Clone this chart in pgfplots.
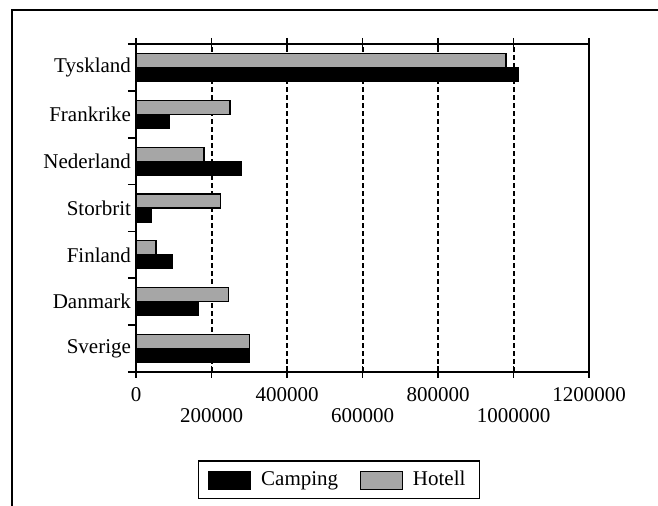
\documentclass[border=0pt]{standalone}
\usepackage{fontspec}
\setmainfont{Liberation Serif}
\usepackage{pgfplots}
\pgfplotsset{compat=1.18}

\begin{document}
\begin{tikzpicture}[font=\fontsize{10.5}{12.6}\selectfont]
\useasboundingbox (0,0) rectangle (329pt,253pt);
\draw[line width=0.8pt] (6pt,0) -- (6pt,248pt) -- (329pt,248pt);
\begin{axis}[
    at={(68pt,67pt)}, anchor=south west,
    scale only axis, width=226.5pt, height=164pt,
    xbar, bar width=7pt,
    xmin=0, xmax=1200000, ymin=-0.5, ymax=6.5,
    axis line style={line width=0.8pt},
    every tick/.style={black, line width=0.8pt},
    major tick length=6pt, minor tick length=4pt,
    xtick align=center, ytick align=outside,
    xtick pos=both, ytick pos=left,
    xtick={0,400000,800000,1200000},
    xticklabels={0,400000,800000,1200000},
    extra x ticks={200000,600000,1000000},
    extra x tick labels={200000,600000,1000000},
    extra x tick style={grid=major, xticklabel style={yshift=-10.5pt}},
    scaled x ticks=false,
    xmajorgrids=true,
    major grid style={black, line width=1pt, dash pattern=on 2.5pt off 1.5pt},
    ytick={0,...,6},
    yticklabels={Sverige,Danmark,Finland,Storbrit,Nederland,Frankrike,Tyskland},
    major y tick style={draw=none},
    minor ytick={-0.5,0.5,...,6.5},
    xticklabel style={yshift=-1pt},
    yticklabel style={xshift=7pt},
    /pgf/number format/assume math mode=true,
    legend style={at={(0.448,-0.329)}, anchor=center, legend columns=2,
        draw=black, line width=0.8pt, inner xsep=5pt, inner ysep=3pt,
        /tikz/every odd column/.append style={column sep=3pt},
        /tikz/every even column/.append style={column sep=9pt}},
    legend image code/.code={\draw[#1, line width=0.4pt] (0pt,-4.5pt) rectangle (21pt,4.5pt);},
]
\addplot[fill=black, draw=black, bar shift=-3.5pt] coordinates {
  (300000,0) (165000,1) (96000,2) (40000,3) (278000,4) (87500,5) (1013000,6)};
\addplot[fill=black!35, draw=black, line width=0.6pt, bar shift=3.5pt] coordinates {
  (300000,0) (246000,1) (53000,2) (223000,3) (180000,4) (249000,5) (980000,6)};
\legend{Camping,Hotell}
\end{axis}
\end{tikzpicture}
\end{document}
